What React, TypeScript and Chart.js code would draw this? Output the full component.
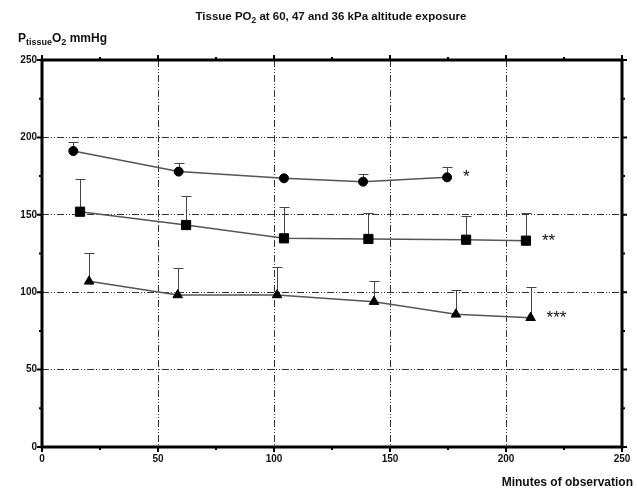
import React, { useEffect, useRef } from "react";
import { Chart, registerables } from "chart.js";
Chart.register(...registerables);

// ---- data (minutes, mmHg) ----
const circleX = [13.5, 58.9, 104.3, 138.4, 174.6];
const circleY = [191.2, 177.9, 173.6, 171.4, 174.2];
const circleUpper: (number | null)[] = [197.2, 183.7, null, 176.2, 181.0];

const squareX = [16.4, 62.1, 104.3, 140.7, 182.8, 208.6];
const squareY = [152.0, 143.4, 134.8, 134.4, 133.9, 133.3];
const squareUpper: (number | null)[] = [173.1, 162.1, 154.8, 151.0, 149.2, 151.0];

const triangleX = [20.3, 58.5, 101.3, 143.1, 178.4, 210.6];
const triangleY = [107.0, 98.2, 98.2, 93.9, 85.7, 83.5];
const triangleUpper: (number | null)[] = [125.5, 115.6, 116.3, 107.4, 101.6, 103.2];

const significance = ["*", "**", "***"];
const axisMin = 0;
const axisMax = 250;
const majorStep = 50;
const minorStep = 25;

const titleParts = [
  { t: "Tissue PO" },
  { t: "2", sub: true },
  { t: " at 60, 47 and 36 kPa altitude exposure" },
];
const yTitleParts = [
  { t: "P" },
  { t: "tissue", sub: true, bold: true },
  { t: "O" },
  { t: "2", sub: true },
  { t: " mmHg" },
];
const xTitle = "Minutes of observation";

const FONT = '"Liberation Sans", Arial, sans-serif';
const INK = "#111";

type Part = { t: string; sub?: boolean; bold?: boolean };

function drawRich(
  ctx: CanvasRenderingContext2D,
  parts: Part[],
  x: number,
  y: number,
  size: number,
  bold: boolean,
  align: "left" | "center",
  subRatio = 0.72
) {
  const fontFor = (p: Part) =>
    `${bold || p.bold ? "bold " : ""}${p.sub ? Math.round(size * subRatio * 10) / 10 : size}px ${FONT}`;
  let w = 0;
  parts.forEach((p) => {
    ctx.font = fontFor(p);
    w += ctx.measureText(p.t).width;
  });
  let cx = align === "center" ? x - w / 2 : x;
  ctx.textAlign = "left";
  ctx.textBaseline = "alphabetic";
  parts.forEach((p) => {
    ctx.font = fontFor(p);
    ctx.fillText(p.t, cx, p.sub ? y + size * 0.22 : y);
    cx += ctx.measureText(p.t).width;
  });
}

function pairs(xs: number[], ys: number[]) {
  return xs.map((x, i) => ({ x, y: ys[i] }));
}

const uppers = [circleUpper, squareUpper, triangleUpper];

const decorPlugin = {
  id: "decor",
  beforeDatasetsDraw(chart: any) {
    const { ctx, scales } = chart;
    ctx.save();
    ctx.strokeStyle = "#444";
    ctx.lineWidth = 1;
    chart.data.datasets.forEach((ds: any, di: number) => {
      ds.data.forEach((pt: any, i: number) => {
        const up = uppers[di][i];
        if (up == null) return;
        const px = Math.round(scales.x.getPixelForValue(pt.x)) + 0.5;
        const py = scales.y.getPixelForValue(pt.y);
        const pu = Math.round(scales.y.getPixelForValue(up)) + 0.5;
        ctx.beginPath();
        ctx.moveTo(px, py);
        ctx.lineTo(px, pu);
        ctx.moveTo(px - 5, pu);
        ctx.lineTo(px + 5, pu);
        ctx.stroke();
      });
    });
    ctx.restore();
  },
  afterDraw(chart: any) {
    const { ctx, chartArea: a, scales } = chart;
    ctx.save();
    // frame
    ctx.strokeStyle = "#000";
    ctx.lineWidth = 3;
    ctx.strokeRect(a.left, a.top, a.right - a.left, a.bottom - a.top);
    // ticks on all sides
    ctx.lineWidth = 2;
    for (let v = axisMin; v <= axisMax; v += minorStep) {
      const major = v % majorStep === 0;
      const len = major ? 5 : 3;
      const xp = scales.x.getPixelForValue(v);
      const yp = scales.y.getPixelForValue(v);
      ctx.beginPath();
      ctx.moveTo(a.left, yp);
      ctx.lineTo(a.left - len, yp);
      ctx.moveTo(a.right, yp);
      ctx.lineTo(a.right + len, yp);
      ctx.moveTo(xp, a.bottom);
      ctx.lineTo(xp, a.bottom + len);
      ctx.moveTo(xp, a.top);
      ctx.lineTo(xp, a.top - len);
      ctx.stroke();
    }
    // titles
    ctx.fillStyle = INK;
    drawRich(ctx, titleParts, 331, 20, 11.5, true, "center");
    drawRich(ctx, yTitleParts, 18, 42, 12, true, "left", 0.75);
    ctx.font = `bold 12px ${FONT}`;
    ctx.textAlign = "right";
    ctx.textBaseline = "alphabetic";
    ctx.fillText(xTitle, 633, 486);
    // significance marks next to last point of each series
    ctx.font = `17px ${FONT}`;
    ctx.textAlign = "left";
    ctx.textBaseline = "alphabetic";
    chart.data.datasets.forEach((ds: any, di: number) => {
      const last = ds.data[ds.data.length - 1];
      const px = scales.x.getPixelForValue(last.x);
      const py = scales.y.getPixelForValue(last.y);
      ctx.fillText(significance[di], px + 16, py + 5);
    });
    ctx.restore();
  },
};

export default function App() {
  const ref = useRef<HTMLCanvasElement>(null);
  useEffect(() => {
    document.body.style.margin = "0";
    const gridColor = (c: any) => {
      const v = c.tick?.value;
      return v != null && v % majorStep === 0 && v !== axisMin && v !== axisMax ? "#333" : "rgba(0,0,0,0)";
    };
    const common = {
      type: "linear" as const,
      min: axisMin,
      max: axisMax,
      border: { display: false, dash: [7, 2, 1, 2, 1, 2] },
      grid: { color: gridColor, lineWidth: 1, drawTicks: false },
    };
    const chart = new Chart(ref.current!, {
      type: "scatter",
      data: {
        datasets: [
          {
            data: pairs(circleX, circleY),
            pointStyle: "circle",
            pointRadius: 4.5,
          },
          {
            data: pairs(squareX, squareY),
            pointStyle: "rect",
            pointRadius: 6.5,
          },
          {
            data: pairs(triangleX, triangleY),
            pointStyle: "triangle",
            pointRadius: 5.5,
          },
        ].map((d) => ({
          ...d,
          showLine: true,
          borderColor: "#555",
          borderWidth: 1.5,
          pointBackgroundColor: "#000",
          pointBorderColor: "#000",
          pointBorderWidth: 1,
        })),
      },
      options: {
        animation: false,
        responsive: false,
        events: [],
        layout: { padding: { left: 0, top: 60, right: 15, bottom: 0 } },
        plugins: { legend: { display: false }, tooltip: { enabled: false } },
        scales: {
          x: {
            ...common,
            afterFit: (s: any) => {
              s.height = 44;
            },
            ticks: {
              stepSize: minorStep,
              autoSkip: false,
              maxRotation: 0,
              padding: 6,
              color: INK,
              font: { family: FONT, size: 10, weight: "bold" },
              callback: (v: any) => (v % majorStep === 0 ? String(v) : ""),
            },
          },
          y: {
            ...common,
            afterFit: (s: any) => {
              s.width = 42;
            },
            ticks: {
              stepSize: minorStep,
              autoSkip: false,
              padding: 5,
              color: INK,
              font: { family: FONT, size: 10, weight: "bold" },
              callback: (v: any) => (v % majorStep === 0 ? String(v) : ""),
            },
          },
        },
      },
      plugins: [decorPlugin],
    } as any);
    return () => chart.destroy();
  }, []);
  return <canvas ref={ref} width={637} height={491} style={{ display: "block" }} />;
}
